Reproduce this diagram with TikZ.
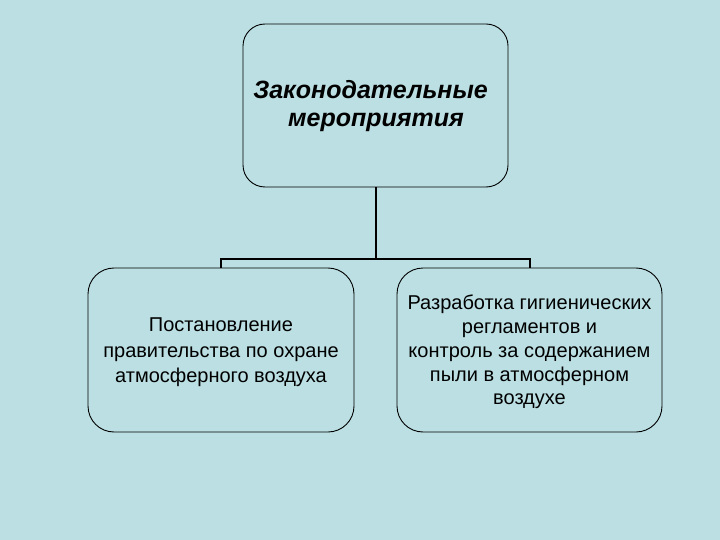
\documentclass[tikz,border=0pt]{standalone}
\usepackage{fontspec}
\setmainfont{Liberation Sans}
\definecolor{bg}{HTML}{BBDFE3}
\begin{document}
\begin{tikzpicture}[x=1pt,y=-1pt,
  box/.style={draw=black,line width=0.9pt,rounded corners=26pt,inner sep=0pt},
  txt/.style={inner sep=0pt,align=center},
  conn/.style={draw=black,line width=2pt}]
\fill[bg] (0,0) rectangle (720,540);
\useasboundingbox (0,0) rectangle (720,540);
\node[box,rounded corners=22pt,minimum width=265pt,minimum height=163pt] (top) at (375.5,105.5) {};
\node[txt,font=\fontsize{25}{28}\selectfont\bfseries\itshape] (toptext) at (376,106)
  {Законодательные\hspace*{11pt}\\мероприятия};
\node[box,minimum width=266pt,minimum height=164pt] (left) at (221,350) {};
\node[txt,font=\fontsize{20}{25.5}\selectfont] (lefttext) at (221,352.5)
  {Постановление\\правительства по охране\\атмосферного воздуха};
\node[box,minimum width=265pt,minimum height=164pt] (right) at (529.5,350) {};
\node[txt,font=\fontsize{20}{23.8}\selectfont] (righttext) at (529.5,352)
  {Разработка гигиенических\\регламентов и\\контроль за содержанием\\пыли в атмосферном\\воздухе};
\coordinate (j) at (375.5,259);
\draw[conn] (top.south) -- (j);
\draw[conn] (left.north) |- (j) -| (right.north);
\end{tikzpicture}
\end{document}
